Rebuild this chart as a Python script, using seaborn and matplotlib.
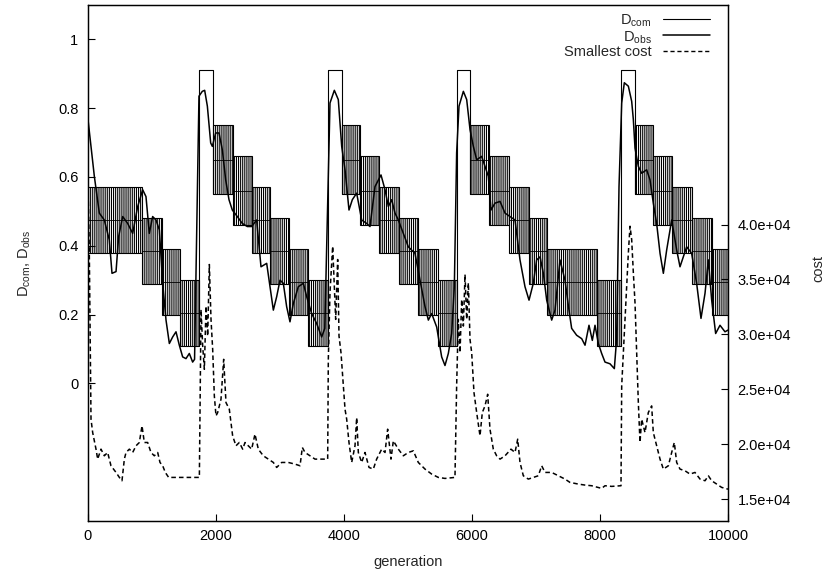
import numpy as np
import pandas as pd
import matplotlib
matplotlib.use('Agg')
import matplotlib.pyplot as plt
import seaborn as sns

# D_com plateaus: D_com flips rapidly between an upper and a lower level
com_start = [0, 843, 1156, 1442,
             1948, 2260, 2557, 2840, 3140, 3445,
             3963, 4250, 4547, 4860, 5160, 5465,
             5969, 6266, 6578, 6891, 7167, 7950,
             8547, 8825, 9125, 9435, 9748]
com_end = [843, 1156, 1442, 1740,
           2260, 2557, 2840, 3140, 3445, 3750,
           4250, 4547, 4860, 5160, 5465, 5760,
           6266, 6578, 6891, 7167, 7950, 8335,
           8825, 9125, 9435, 9748, 10000]
com_hi = [0.57, 0.48, 0.39, 0.30,
          0.75, 0.66, 0.57, 0.48, 0.39, 0.30,
          0.75, 0.66, 0.57, 0.48, 0.39, 0.30,
          0.75, 0.66, 0.57, 0.48, 0.39, 0.30,
          0.75, 0.66, 0.57, 0.48, 0.39]
com_lo = [0.38, 0.29, 0.20, 0.11,
          0.55, 0.46, 0.38, 0.29, 0.20, 0.11,
          0.55, 0.46, 0.38, 0.29, 0.20, 0.11,
          0.55, 0.46, 0.38, 0.29, 0.20, 0.11,
          0.55, 0.46, 0.38, 0.29, 0.20]

# D_com right after each restart
spike_start = [1740, 3750, 5760, 8335]
spike_end = [1948, 3963, 5969, 8547]
spike_level = [0.91, 0.91, 0.91, 0.91]

# D_obs
obs_gen = [0, 99, 177, 255, 333, 375, 438, 479, 542, 620, 698, 776, 854, 906, 958, 1010,
           1063, 1115, 1167, 1219, 1271, 1323, 1375, 1427, 1479, 1531, 1583, 1635, 1665,
           1734, 1786, 1823, 1865, 1917, 1943, 1995, 2047, 2099, 2151, 2203, 2255, 2333,
           2411, 2489, 2557, 2635, 2703, 2792, 2844, 2896, 2948, 3000, 3052, 3104, 3156,
           3208, 3286, 3365, 3417, 3495, 3573, 3651, 3700, 3781, 3849, 3911, 3964, 4016,
           4078, 4130, 4198, 4276, 4354, 4406, 4484, 4578, 4641, 4693, 4745, 4797, 4849,
           4927, 5005, 5109, 5188, 5266, 5318, 5370, 5448, 5526, 5578, 5630, 5682, 5724,
           5760, 5797, 5865, 5917, 5969, 6021, 6073, 6151, 6203, 6255, 6297, 6359, 6438,
           6516, 6594, 6672, 6750, 6828, 6891, 6958, 7010, 7063, 7115, 7167, 7245, 7297,
           7375, 7453, 7510, 7557, 7635, 7714, 7766, 7828, 7880, 7922, 7974, 8026, 8078,
           8156, 8224, 8260, 8297, 8339, 8380, 8443, 8495, 8521, 8547, 8599, 8651, 8729,
           8781, 8833, 8885, 8938, 8990, 9042, 9120, 9198, 9250, 9302, 9354, 9432, 9510,
           9578, 9641, 9693, 9745, 9807, 9875, 9953, 10000]
obs_val = [0.767, 0.602, 0.495, 0.475, 0.417, 0.320, 0.325, 0.427, 0.485, 0.465, 0.436, 0.514,
           0.563, 0.543, 0.436, 0.485, 0.475, 0.446, 0.291, 0.184, 0.116, 0.135, 0.150,
           0.111, 0.077, 0.072, 0.087, 0.062, 0.070, 0.835, 0.849, 0.852, 0.806, 0.699,
           0.689, 0.728, 0.728, 0.679, 0.592, 0.534, 0.504, 0.485, 0.465, 0.456, 0.456,
           0.475, 0.339, 0.349, 0.281, 0.213, 0.252, 0.300, 0.291, 0.223, 0.179, 0.232,
           0.281, 0.291, 0.252, 0.203, 0.174, 0.135, 0.160, 0.815, 0.852, 0.825, 0.689,
           0.621, 0.504, 0.534, 0.553, 0.475, 0.465, 0.456, 0.572, 0.606, 0.563, 0.514,
           0.534, 0.495, 0.475, 0.436, 0.397, 0.378, 0.300, 0.223, 0.184, 0.203, 0.164,
           0.077, 0.052, 0.087, 0.145, 0.281, 0.670, 0.806, 0.849, 0.825, 0.738, 0.689,
           0.650, 0.660, 0.631, 0.602, 0.504, 0.524, 0.529, 0.495, 0.485, 0.475, 0.359,
           0.281, 0.242, 0.291, 0.359, 0.368, 0.320, 0.242, 0.184, 0.213, 0.359, 0.300,
           0.220, 0.160, 0.140, 0.130, 0.111, 0.169, 0.125, 0.169, 0.116, 0.087, 0.062,
           0.057, 0.043, 0.130, 0.572, 0.815, 0.874, 0.864, 0.820, 0.767, 0.684, 0.631,
           0.611, 0.621, 0.592, 0.524, 0.465, 0.378, 0.320, 0.388, 0.475, 0.388, 0.339,
           0.368, 0.397, 0.378, 0.291, 0.189, 0.262, 0.359, 0.242, 0.145, 0.169, 0.150,
           0.155]

# Smallest cost (right axis)
cost_gen = [0, 20, 47, 73, 125, 151, 203, 255, 307, 359, 438, 490, 531, 568, 594, 646, 698,
            750, 802, 844, 880, 932, 984, 1036, 1089, 1125, 1167, 1208, 1260, 1740, 1766,
            1792, 1818, 1844, 1870, 1896, 1922, 1948, 1974, 2000, 2026, 2078, 2120, 2156,
            2208, 2260, 2312, 2364, 2417, 2453, 2505, 2557, 2609, 2661, 2739, 2818, 2896,
            2948, 3026, 3130, 3234, 3313, 3349, 3391, 3469, 3547, 3651, 3745, 3755, 3781,
            3823, 3849, 3870, 3901, 3922, 3953, 3990, 4016, 4042, 4078, 4120, 4172, 4198,
            4224, 4276, 4328, 4391, 4458, 4510, 4589, 4641, 4682, 4734, 4771, 4849, 4927,
            5005, 5083, 5161, 5266, 5370, 5474, 5578, 5734, 5760, 5786, 5813, 5839, 5865,
            5891, 5917, 5943, 5969, 5995, 6031, 6073, 6125, 6161, 6203, 6245, 6281, 6333,
            6385, 6438, 6516, 6609, 6672, 6714, 6750, 6802, 6880, 6958, 7036, 7089, 7141,
            7245, 7349, 7453, 7531, 7661, 7766, 7870, 8026, 8078, 8182, 8328, 8339, 8365,
            8391, 8417, 8443, 8469, 8495, 8521, 8547, 8573, 8599, 8625, 8651, 8703, 8755,
            8807, 8833, 8885, 8938, 8990, 9068, 9120, 9161, 9198, 9250, 9328, 9406, 9484,
            9563, 9641, 9693, 9745, 9823, 9901, 10000]
cost_val = [43500, 37725, 22272, 21060, 19545, 18636, 19545, 18939, 19242, 18030, 17424,
            16970, 16667, 18636, 19242, 19545, 19242, 19848, 20151, 21666, 20151, 20151,
            19242, 18939, 19242, 18333, 18030, 17424, 16970, 16970, 32272, 28939, 26818,
            32575, 29848, 36363, 31363, 28636, 24393, 22575, 22878, 24090, 27727, 23787,
            23181, 20757, 19848, 20151, 19545, 20151, 19848, 19545, 20909, 19545, 18939,
            18636, 18333, 17878, 18333, 18333, 18181, 18030, 19697, 19242, 18939, 18636,
            18636, 18636, 27727, 33787, 38030, 34393, 31363, 36818, 29848, 28333, 25303,
            23181, 22272, 20151, 18333, 19848, 22424, 19242, 18333, 19242, 17878, 17727,
            18636, 19545, 19242, 21363, 18636, 20303, 19545, 18939, 19242, 19393, 18333,
            17727, 17272, 16970, 16878, 16970, 25303, 31363, 28333, 33181, 30757, 35454,
            31363, 34696, 29545, 28333, 24696, 22878, 20757, 22878, 23484, 24545, 21363,
            19545, 18939, 18636, 18939, 19545, 19242, 20454, 18333, 17121, 16818, 16970,
            17121, 18030, 17424, 17424, 17121, 16818, 16515, 16363, 16272, 16212, 15970,
            16212, 16152, 16212, 25303, 28333, 31363, 34393, 37424, 39848, 38636, 35606,
            32878, 28333, 23787, 20151, 22272, 21060, 22878, 23484, 21060, 19848, 18636,
            17727, 18030, 19242, 20151, 18333, 17727, 17575, 17272, 17424, 16818, 16667,
            17121, 16667, 16363, 16060, 15900]

left_ticks = [0, 0.2, 0.4, 0.6, 0.8, 1.0]
left_labels = ['0', '0.2', '0.4', '0.6', '0.8', '1']
right_ticks = [15000, 20000, 25000, 30000, 35000, 40000]
right_labels = ['1.5e+04', '2.0e+04', '2.5e+04', '3.0e+04', '3.5e+04', '4.0e+04']
x_ticks = [0, 2000, 4000, 6000, 8000, 10000]
legend_labels = [r'D$_{\mathrm{com}}$', r'D$_{\mathrm{obs}}$', 'Smallest cost']

FS = 10.5
DASH = (0, (3, 2))

sns.set_style('white')
plt.rcParams['font.family'] = ['Liberation Sans', 'DejaVu Sans']
plt.rcParams['mathtext.fontset'] = 'custom'
plt.rcParams['mathtext.rm'] = 'Liberation Sans'
plt.rcParams['mathtext.it'] = 'Liberation Sans:italic'
plt.rcParams['hatch.linewidth'] = 0.8
plt.rcParams['hatch.color'] = 'black'

fig = plt.figure(figsize=(8.32, 5.75), dpi=100)
ax = fig.add_axes([88 / 832, 1 - 521 / 575, 640 / 832, 516 / 575])
ax2 = ax.twinx()

com = pd.DataFrame({'start': com_start, 'end': com_end, 'hi': com_hi, 'lo': com_lo})
ax.bar(com['start'], com['hi'] - com['lo'], bottom=com['lo'], width=com['end'] - com['start'],
       align='edge', fill=False, hatch='|' * 8, edgecolor='black', linewidth=0.8)
ax.hlines((com['hi'] + com['lo']) / 2, com['start'], com['end'], color='black', linewidth=0.6)

# outline of the restart spikes, from the plateau before to the plateau after
for s, e, lev in zip(spike_start, spike_end, spike_level):
    before = com.loc[com['end'] == s, 'lo'].iloc[0]
    after = com.loc[com['start'] == e, 'lo'].iloc[0]
    spike = pd.DataFrame({'gen': [s, s, e, e], 'val': [before, lev, lev, after]})
    sns.lineplot(data=spike, x='gen', y='val', sort=False, estimator=None,
                 color='black', linewidth=0.8, ax=ax)

obs = pd.DataFrame({'gen': obs_gen, 'val': obs_val})
sns.lineplot(data=obs, x='gen', y='val', sort=False, estimator=None,
             color='black', linewidth=1.1, ax=ax)

cost = pd.DataFrame({'gen': cost_gen, 'val': cost_val})
sns.lineplot(data=cost, x='gen', y='val', sort=False, estimator=None,
             color='black', linewidth=1.1, linestyle=DASH, ax=ax2)

ax.set_xlim(0, 10000)
ax.set_ylim(-0.4, 1.1)
ax2.set_ylim(13000, 60000)
ax.set_xticks(x_ticks)
ax.set_xticklabels([str(t) for t in x_ticks])
ax.set_yticks(left_ticks)
ax.set_yticklabels(left_labels)
ax2.set_yticks(right_ticks)
ax2.set_yticklabels(right_labels)

ax.tick_params(axis='both', direction='in', length=5, width=0.8, labelsize=FS,
               colors='black', pad=7, right=False, top=False, left=True, bottom=True)
ax.tick_params(axis='x', pad=6)
ax2.tick_params(axis='y', direction='in', length=5, width=0.8, labelsize=FS,
                colors='black', pad=7, right=True)

for a in (ax, ax2):
    for sp in a.spines.values():
        sp.set_color('black')
        sp.set_linewidth(0.9)

ax.set_xlabel('generation', fontsize=FS)
ax.set_ylabel(r'D$_{\mathrm{com}}$, D$_{\mathrm{obs}}$', fontsize=FS)
ax2.set_ylabel('cost', fontsize=FS)
ax.xaxis.set_label_coords(0.5, -0.066)
ax.yaxis.set_label_coords(-0.086, 0.5)
ax2.yaxis.set_label_coords(1.13, 0.49)

# gnuplot-style key: right-aligned text, sample line to its right
key_y = [0.972, 0.941, 0.910]
key_base = [0.962, 0.930, 0.901]
key_styles = [dict(linewidth=0.8, linestyle='-'), dict(linewidth=1.1, linestyle='-'),
              dict(linewidth=1.0, linestyle=DASH)]
for lab, yl, yb, st in zip(legend_labels, key_y, key_base, key_styles):
    ax2.text(0.881, yb, lab, transform=ax2.transAxes, ha='right', va='baseline', fontsize=FS)
    ax2.plot([0.898, 0.972], [yl, yl], transform=ax2.transAxes, color='black', **st)

fig.savefig('out.png', dpi=100)
